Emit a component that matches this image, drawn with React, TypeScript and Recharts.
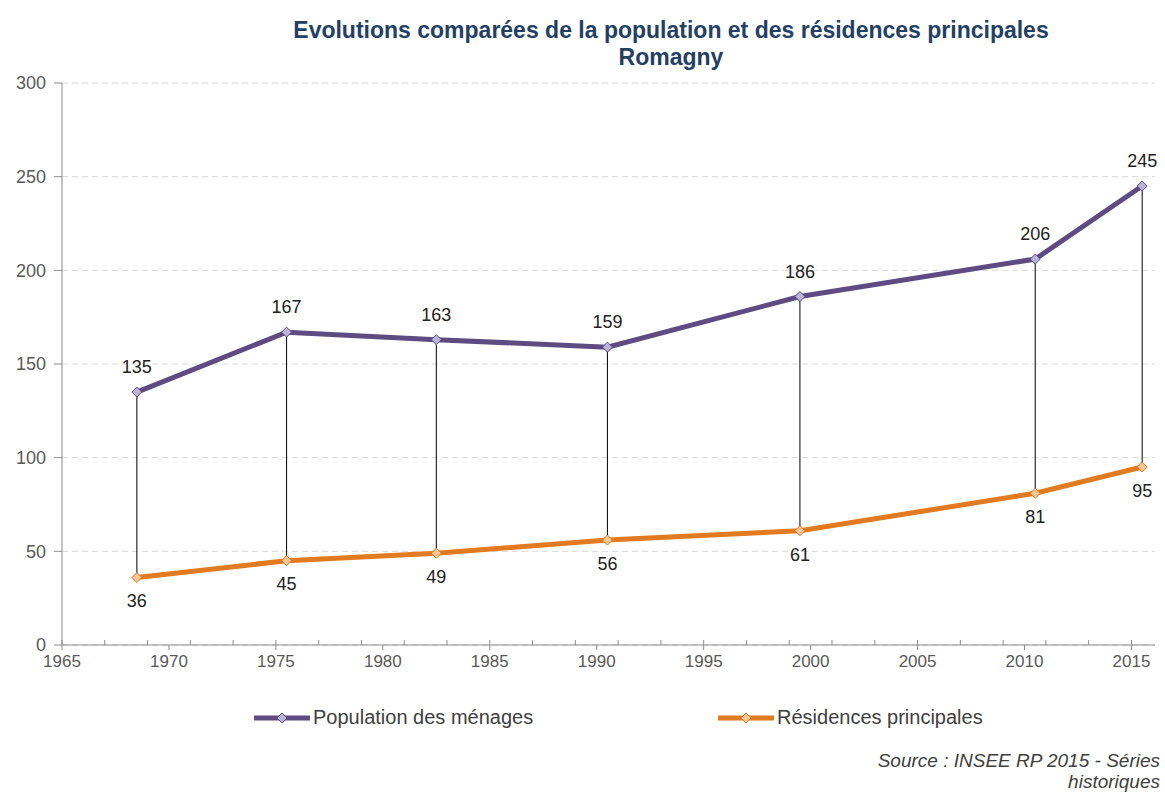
import React from "react";
import { LineChart, Line, XAxis, YAxis, CartesianGrid, Legend, LabelList, ErrorBar } from "recharts";

// census years and values
const years = [1968, 1975, 1982, 1990, 1999, 2010, 2015];
const population = [135, 167, 163, 159, 186, 206, 245];
const residences = [36, 45, 49, 56, 61, 81, 95];

const majorTicks = [1965, 1970, 1975, 1980, 1985, 1990, 1995, 2000, 2005, 2010, 2015];
const minorTicks = Array.from({ length: 51 }, (_, i) => 1965 + i);
const yTicks = [0, 50, 100, 150, 200, 250, 300];

const PURPLE = "#5e4b82";
const PURPLE_LIGHT = "#bcb3da";
const ORANGE = "#e27a1f";
const ORANGE_LIGHT = "#fbc596";

const data = years.map((year, i) => ({
  year,
  pop: population[i],
  res: residences[i],
  drop: [population[i] - residences[i], 0],
}));

const diamond = (stroke: string, fill: string) => (props: any) => {
  const { cx, cy, index } = props;
  if (cx == null || cy == null) return <g key={index} />;
  const s = 5;
  return (
    <polygon
      key={index}
      points={`${cx},${cy - s} ${cx + s},${cy} ${cx},${cy + s} ${cx - s},${cy}`}
      fill={fill}
      stroke={stroke}
      strokeWidth={1}
    />
  );
};

const LegendIcon = ({ color, fill }: { color: string; fill: string }) => (
  <svg width={58} height={14} style={{ display: "block" }}>
    <line x1={1} y1={7} x2={57} y2={7} stroke={color} strokeWidth={5} />
    <polygon points="29,2 34,7 29,12 24,7" fill={fill} stroke={color} strokeWidth={1} />
  </svg>
);

const renderLegend = () => (
  <div style={{ display: "flex", fontSize: 20, color: "#404040" }}>
    <div style={{ display: "flex", alignItems: "center", width: 464 }}>
      <LegendIcon color={PURPLE} fill={PURPLE_LIGHT} />
      <span style={{ marginLeft: 2 }}>Population des ménages</span>
    </div>
    <div style={{ display: "flex", alignItems: "center" }}>
      <LegendIcon color={ORANGE} fill={ORANGE_LIGHT} />
      <span style={{ marginLeft: 2 }}>Résidences principales</span>
    </div>
  </div>
);

export default function App() {
  return (
    <div
      style={{
        position: "absolute",
        left: 0,
        top: 0,
        width: 1165,
        height: 792,
        background: "#fff",
        fontFamily: "'Liberation Sans', Arial, sans-serif",
        overflow: "hidden",
      }}
    >
      <div
        style={{
          position: "absolute",
          left: 180,
          width: 982,
          top: 17,
          textAlign: "center",
          fontWeight: "bold",
          fontSize: 23,
          lineHeight: "27px",
          color: "#243f64",
        }}
      >
        Evolutions comparées de la population et des résidences principales
        <br />
        Romagny
      </div>

      <LineChart width={1165} height={792} data={data} margin={{ top: 83, right: 10, left: 0, bottom: 118 }}>
        <CartesianGrid vertical={false} stroke="#d9d9d9" strokeDasharray="6 4" />
        <XAxis
          xAxisId="minor"
          type="number"
          dataKey="year"
          domain={[1965, 2016.1]}
          ticks={minorTicks}
          tick={() => <g />}
          height={1}
          mirror
          tickSize={5}
          axisLine={false}
          tickLine={{ stroke: "#8c8c8c" }}
        />
        <XAxis
          type="number"
          dataKey={(d: any) => d.year + 0.5}
          domain={[1965, 2016.1]}
          ticks={majorTicks}
          allowDataOverflow
          height={29}
          tickSize={5}
          tickMargin={5}
          stroke="#8c8c8c"
          tick={{ fill: "#595959", fontSize: 17 }}
        />
        <YAxis
          domain={[0, 300]}
          ticks={yTicks}
          width={62}
          tickSize={8}
          tickMargin={8}
          stroke="#8c8c8c"
          tick={{ fill: "#595959", fontSize: 18 }}
        />
        <Legend
          verticalAlign="middle"
          align="center"
          layout="horizontal"
          wrapperStyle={{ top: 706, left: 253, width: 850 }}
          content={renderLegend}
        />
        <Line
          dataKey="pop"
          name="Population des ménages"
          stroke={PURPLE}
          strokeWidth={5}
          dot={diamond(PURPLE, PURPLE_LIGHT)}
          isAnimationActive={false}
        >
          <ErrorBar dataKey="drop" direction="y" width={0} stroke="#000" strokeWidth={1} />
          <LabelList dataKey="pop" position="top" offset={19} fill="#222" fontSize={18} />
        </Line>
        <Line
          dataKey="res"
          name="Résidences principales"
          stroke={ORANGE}
          strokeWidth={5}
          dot={diamond(ORANGE, ORANGE_LIGHT)}
          isAnimationActive={false}
        >
          <LabelList dataKey="res" position="bottom" offset={17} fill="#222" fontSize={18} />
        </Line>
      </LineChart>

      <div
        style={{
          position: "absolute",
          right: 5,
          top: 750,
          textAlign: "right",
          fontStyle: "italic",
          fontSize: 19,
          lineHeight: "21px",
          color: "#404040",
        }}
      >
        Source : INSEE RP 2015 - Séries
        <br />
        historiques
      </div>
    </div>
  );
}
